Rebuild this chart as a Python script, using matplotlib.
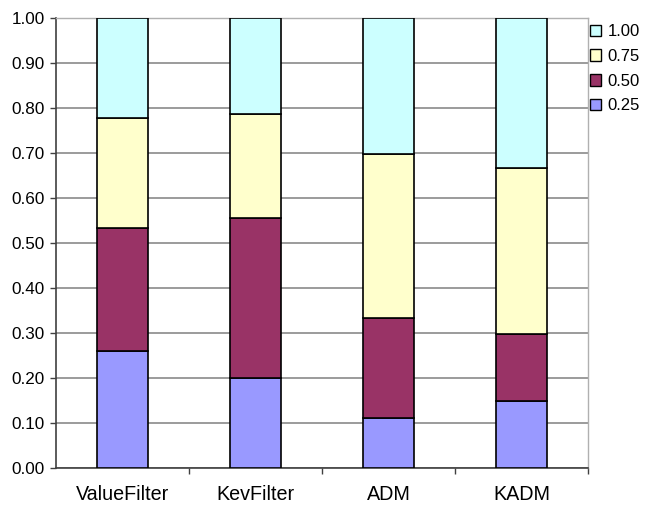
import matplotlib
matplotlib.use("Agg")
import matplotlib.pyplot as plt
import numpy as np

plt.rcParams['font.family'] = ['Liberation Sans', 'DejaVu Sans']

categories = ["ValueFilter", "KevFilter", "ADM", "KADM"]
series_names = ["0.25", "0.50", "0.75", "1.00"]
# segment heights per series (stacked to 1.0)
s025 = [0.261, 0.200, 0.112, 0.149]
s050 = [0.272, 0.356, 0.222, 0.148]
s075 = [0.245, 0.230, 0.363, 0.370]
s100 = [0.222, 0.214, 0.303, 0.333]
colors = ["#9999FF", "#993366", "#FFFFCC", "#CCFFFF"]

fig = plt.figure(figsize=(6.45, 5.05), dpi=100)
ax = fig.add_axes([0.0868, 0.0727, 0.8248, 0.8923])

x = np.arange(len(categories))
bottom = np.zeros(len(categories))
bars = []
for name, vals, c in zip(series_names, [s025, s050, s075, s100], colors):
    b = ax.bar(x, vals, width=0.39, bottom=bottom, color=c,
               edgecolor="black", linewidth=1.2, label=name, zorder=3)
    bars.append(b)
    bottom += np.array(vals)

ax.set_xlim(-0.5, 3.5)
ax.set_ylim(0, 1.0)
ax.set_yticks(np.arange(0, 1.01, 0.1))
ax.set_yticklabels(["%.2f" % v for v in np.arange(0, 1.01, 0.1)], fontsize=12.3)
ax.set_xticks(x)
ax.set_xticklabels(categories, fontsize=14.2)
ax.tick_params(axis="x", length=0, pad=12)
ax.set_xticks([0.5, 1.5, 2.5, 3.5], minor=True)
ax.tick_params(axis="x", which="minor", length=4, width=1, color="#404040", direction="out")
ax.tick_params(axis="y", length=4.5, width=1, color="#404040", pad=3.6)

ax.yaxis.grid(True, color="#808080", linewidth=1.1, zorder=0)
ax.set_axisbelow(True)
for s in ["left", "bottom"]:
    ax.spines[s].set_color("#404040")
    ax.spines[s].set_linewidth(1.2)
for s in ["right", "top"]:
    ax.spines[s].set_color("#B0B0B0")
    ax.spines[s].set_linewidth(1.0)

handles = [b.patches[0] for b in bars][::-1]
labels = series_names[::-1]
leg = ax.legend(handles, labels, loc="upper left", bbox_to_anchor=(0.914, 0.952),
                bbox_transform=fig.transFigure, frameon=False, fontsize=12,
                handlelength=0.7, handleheight=0.7, handletextpad=0.4,
                labelspacing=0.58, borderaxespad=0, borderpad=0)
for h in leg.legend_handles:
    h.set_linewidth(1.0)

fig.savefig("out.png", dpi=100)
